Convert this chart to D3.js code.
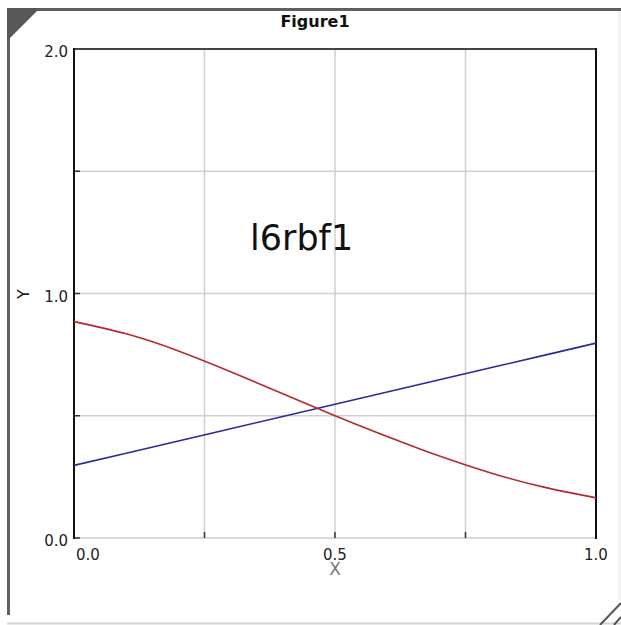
<!DOCTYPE html>
<html>
<head>
<meta charset="utf-8">
<script src="https://cdn.jsdelivr.net/npm/d3@7"></script>
<style>
  html, body { margin: 0; padding: 0; background: #fff; }
  svg { display: block; }
</style>
</head>
<body>
<div id="chart"></div>
<script>
// Figure1 - two curves on a 0..1 x 0..2 plot

// Data
const xValues = [0, 0.1, 0.2, 0.3, 0.4, 0.5, 0.6, 0.7, 0.8, 0.9, 1.0];
const redValues = [0.885, 0.835, 0.765, 0.68, 0.59, 0.5, 0.415, 0.335, 0.265, 0.208, 0.164];
const blueValues = [0.297, 0.347, 0.397, 0.447, 0.497, 0.547, 0.597, 0.647, 0.697, 0.747, 0.797];
const xGridTicks = [0.25, 0.5, 0.75];
const yGridTicks = [0.5, 1.0, 1.5];
const xTickLabels = [0.0, 0.5, 1.0];
const yTickLabels = [0.0, 1.0, 2.0];

const width = 621;
const height = 625;
const plot = { left: 74, right: 596, top: 49, bottom: 538 };

const svg = d3.select('#chart')
  .append('svg')
  .attr('width', width)
  .attr('height', height);

const x = d3.scaleLinear().domain([0, 1]).range([plot.left, plot.right]);
const y = d3.scaleLinear().domain([0, 2]).range([plot.bottom, plot.top]);

// Window frame
svg.append('line').attr('x1', 7).attr('x2', 621).attr('y1', 9.5).attr('y2', 9.5)
  .attr('stroke', '#5f5f5f').attr('stroke-width', 3);
svg.append('line').attr('x1', 8.5).attr('x2', 8.5).attr('y1', 8).attr('y2', 615)
  .attr('stroke', '#5f5f5f').attr('stroke-width', 3);
svg.append('path').attr('d', 'M7,8 L40,8 L7,41 Z').attr('fill', '#575757');
svg.append('line').attr('x1', 7).attr('x2', 621).attr('y1', 623.5).attr('y2', 623.5)
  .attr('stroke', '#d4d4d4').attr('stroke-width', 2);
svg.append('line').attr('x1', 619.5).attr('x2', 619.5).attr('y1', 11).attr('y2', 600)
  .attr('stroke', '#ececec').attr('stroke-width', 2);
// resize grip
svg.append('line').attr('x1', 600).attr('y1', 625).attr('x2', 621).attr('y2', 603)
  .attr('stroke', '#555').attr('stroke-width', 2);
svg.append('line').attr('x1', 614).attr('y1', 625).attr('x2', 621).attr('y2', 617)
  .attr('stroke', '#555').attr('stroke-width', 2);

// Title
svg.append('text')
  .attr('x', 315).attr('y', 27)
  .attr('text-anchor', 'middle')
  .attr('font-family', 'DejaVu Sans')
  .attr('font-weight', 'bold')
  .attr('font-size', 16)
  .attr('fill', '#111')
  .text('Figure1');

// Grid
const grid = svg.append('g');
grid.selectAll('.gx').data(xGridTicks).enter().append('line')
  .attr('x1', d => x(d)).attr('x2', d => x(d))
  .attr('y1', plot.top).attr('y2', plot.bottom)
  .attr('stroke', '#cfcfcf').attr('stroke-width', 1.5);
grid.selectAll('.gy').data(yGridTicks.concat([0])).enter().append('line')
  .attr('x1', plot.left).attr('x2', plot.right)
  .attr('y1', d => y(d)).attr('y2', d => y(d))
  .attr('stroke', '#cfcfcf').attr('stroke-width', 1.5);

// Tick marks (inside)
grid.selectAll('.tx').data(xGridTicks).enter().append('line')
  .attr('x1', d => x(d)).attr('x2', d => x(d))
  .attr('y1', plot.bottom).attr('y2', plot.bottom - 6)
  .attr('stroke', '#333').attr('stroke-width', 1.5);
grid.selectAll('.ty').data(yGridTicks.concat([0])).enter().append('line')
  .attr('x1', plot.left).attr('x2', plot.left + 6)
  .attr('y1', d => y(d)).attr('y2', d => y(d))
  .attr('stroke', '#333').attr('stroke-width', 1.5);

// Axes border
svg.append('line').attr('x1', plot.left).attr('x2', plot.right + 1)
  .attr('y1', plot.top).attr('y2', plot.top)
  .attr('stroke', '#444').attr('stroke-width', 2);
svg.append('line').attr('x1', plot.left).attr('x2', plot.left)
  .attr('y1', plot.top - 1).attr('y2', plot.bottom + 1)
  .attr('stroke', '#111').attr('stroke-width', 2);
svg.append('line').attr('x1', plot.right).attr('x2', plot.right)
  .attr('y1', plot.top - 1).attr('y2', plot.bottom + 1)
  .attr('stroke', '#111').attr('stroke-width', 2);

// Series
const line = d3.line()
  .x((d, i) => x(xValues[i]))
  .y(d => y(d));

svg.append('path')
  .datum(blueValues)
  .attr('d', line)
  .attr('fill', 'none')
  .attr('stroke', '#2a2a9c')
  .attr('stroke-width', 1.6);

svg.append('path')
  .datum(redValues)
  .attr('d', line.curve(d3.curveNatural))
  .attr('fill', 'none')
  .attr('stroke', '#b52a2a')
  .attr('stroke-width', 1.6);

// Tick labels
const fmt = d3.format('.1f');
svg.selectAll('.ylab').data(yTickLabels).enter().append('text')
  .attr('x', plot.left - 6)
  .attr('y', d => y(d) + 8)
  .attr('text-anchor', 'end')
  .attr('font-family', 'DejaVu Sans')
  .attr('font-size', 15)
  .attr('fill', '#222')
  .text(d => fmt(d));

svg.selectAll('.xlab').data(xTickLabels).enter().append('text')
  .attr('x', d => d === 0 ? x(d) + 2 : x(d))
  .attr('y', plot.bottom + 22)
  .attr('text-anchor', d => d === 0 ? 'start' : 'middle')
  .attr('font-family', 'DejaVu Sans')
  .attr('font-size', 15)
  .attr('fill', '#222')
  .text(d => fmt(d));

// Axis titles
svg.append('text')
  .attr('transform', 'translate(29, 294) rotate(-90)')
  .attr('text-anchor', 'middle')
  .attr('font-family', 'DejaVu Sans')
  .attr('font-size', 16)
  .attr('fill', '#222')
  .text('Y');

svg.append('text')
  .attr('x', x(0.5)).attr('y', plot.bottom + 37)
  .attr('text-anchor', 'middle')
  .attr('font-family', 'DejaVu Sans')
  .attr('font-size', 17)
  .attr('fill', '#777')
  .text('X');

// Annotation
svg.append('text')
  .attr('x', 250).attr('y', 250)
  .attr('font-family', 'DejaVu Sans')
  .attr('font-size', 35)
  .attr('fill', '#111')
  .text('l6rbf1');
</script>
</body>
</html>
